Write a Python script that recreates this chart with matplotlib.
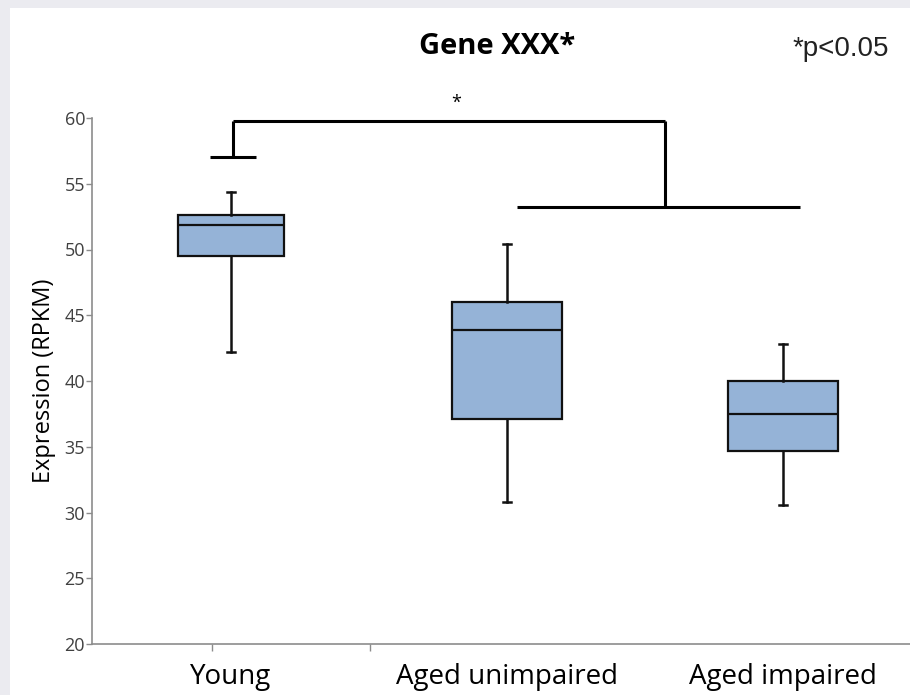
import matplotlib
matplotlib.use("Agg")
from matplotlib import pyplot as plt
from matplotlib.patches import Rectangle

# data
groups = ["Young", "Aged unimpaired", "Aged impaired"]
whisker_low = [42.2, 30.8, 30.6]
q1 = [49.5, 37.1, 34.7]
median = [51.9, 43.9, 37.5]
q3 = [52.6, 46.0, 40.0]
whisker_high = [54.4, 50.4, 42.8]

box_color = "#95b3d7"
axis_gray = "#8c8c8c"

fig = plt.figure(figsize=(9.1, 6.95), dpi=100)
fig.patch.set_facecolor("white")
# gray frame on the left and top
fig.patches.append(Rectangle((0, 0), 10 / 910, 1, transform=fig.transFigure,
                             facecolor="#ebebf0", edgecolor="none", zorder=-10))
fig.patches.append(Rectangle((0, 1 - 8 / 695), 1, 8 / 695, transform=fig.transFigure,
                             facecolor="#ebebf0", edgecolor="none", zorder=-10))

ax = fig.add_axes([92 / 910, 51 / 695, 818 / 910, 526 / 695])
ax.set_facecolor("none")

stats = []
for i, g in enumerate(groups):
    stats.append(dict(label=g, whislo=whisker_low[i], q1=q1[i], med=median[i],
                      q3=q3[i], whishi=whisker_high[i], fliers=[]))

positions = [1, 2, 3]
ax.bxp(stats, positions=positions, widths=[0.385, 0.4, 0.4], patch_artist=True,
       showfliers=False, capwidths=0.03,
       boxprops=dict(facecolor=box_color, edgecolor="#111111", linewidth=1.6),
       medianprops=dict(color="#111111", linewidth=1.6),
       whiskerprops=dict(color="#111111", linewidth=1.8),
       capprops=dict(color="#111111", linewidth=1.8))

ax.set_xlim(0.496, 3.46)
ax.set_ylim(20, 60)
ax.set_yticks(range(20, 61, 5))

# significance bracket
lw = 2.2
ax.plot([1.007, 2.572], [59.8, 59.8], color="black", lw=lw, solid_capstyle="butt", clip_on=False)
ax.plot([1.007, 1.007], [59.8, 57.0], color="black", lw=lw, solid_capstyle="butt")
ax.plot([0.924, 1.09], [57.0, 57.0], color="black", lw=lw, solid_capstyle="butt")
ax.plot([2.572, 2.572], [59.8, 53.2], color="black", lw=lw, solid_capstyle="butt")
ax.plot([2.036, 3.06], [53.2, 53.2], color="black", lw=lw, solid_capstyle="butt")
ax.text(1.815, 60.5, "*", ha="center", va="bottom", fontsize=13,
        family="Open Sans", clip_on=False)

# axes styling
for s in ["top", "right"]:
    ax.spines[s].set_visible(False)
for s in ["left", "bottom"]:
    ax.spines[s].set_color(axis_gray)
    ax.spines[s].set_linewidth(1.2)
ax.tick_params(axis="y", direction="out", length=4, width=1, color=axis_gray,
               labelsize=13, labelcolor="#404040", pad=1)
for t in ax.get_yticklabels():
    t.set_family("Open Sans")

ax.set_xticks(positions)
ax.set_xticklabels(groups, fontsize=20, family="Open Sans", color="black")
ax.tick_params(axis="x", which="major", length=0, pad=14)
ax.set_xticks([0.931, 1.504], minor=True)
ax.tick_params(axis="x", which="minor", direction="out", length=5, width=1,
               color=axis_gray)

ax.set_ylabel("Expression (RPKM)", fontsize=17, family="Open Sans", labelpad=6)

fig.text(497 / 910, 1 - 46 / 695, "Gene XXX*", ha="center", va="center",
         fontsize=21, fontweight="bold", family="Open Sans")
fig.text(841 / 910, 1 - 49 / 695, "*p<0.05", ha="center", va="center",
         fontsize=20, family="Liberation Sans", color="#222222")

fig.savefig("out.png", dpi=100)
